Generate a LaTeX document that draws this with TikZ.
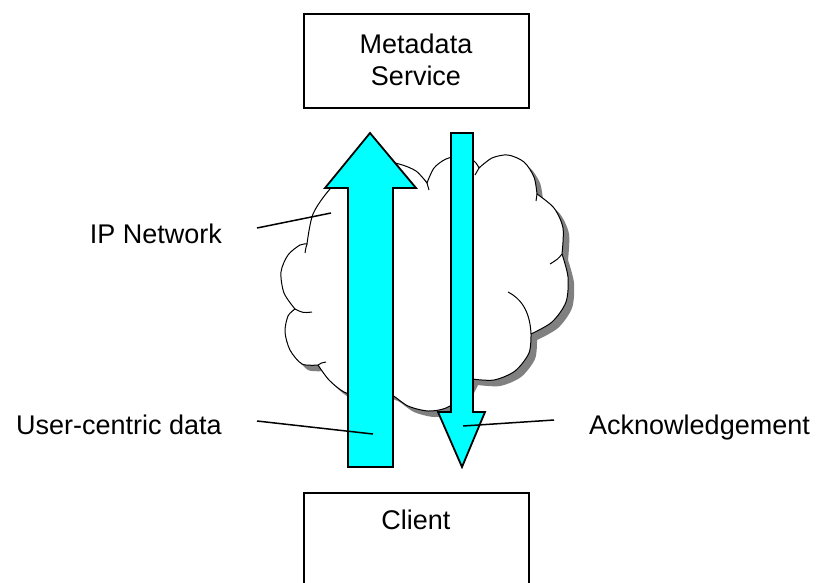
\documentclass[tikz,border=0pt]{standalone}
\usepackage{fontspec}
\setmainfont{Liberation Sans}
\definecolor{aqua}{RGB}{0,255,255}
\definecolor{shadowgray}{RGB}{128,128,128}
\newcommand\cloudoutline{%
  plot[smooth] coordinates {(307,244) (313,214) (330,189) (352,170) (376,161) (399,164) (416,171) (427,183)}
  -- plot[smooth] coordinates {(427,183) (434,168) (446,159) (461,156) (474,161) (479,168)}
  -- plot[smooth] coordinates {(479,168) (492,158) (508,155) (524,162) (534,177) (537,194)}
  -- plot[smooth] coordinates {(537,194) (554,208) (563,228) (562,254)}
  -- plot[smooth] coordinates {(562,254) (568,277) (566,302) (552,322) (531,334)}
  -- plot[smooth] coordinates {(531,334) (529,353) (515,371) (494,380) (472,379)}
  -- plot[smooth] coordinates {(472,379) (462,397) (446,408) (428,411) (408,406) (392,395) (380,392)}
  -- plot[smooth] coordinates {(380,392) (362,397) (344,392) (329,380) (318,365)}
  -- plot[smooth] coordinates {(318,365) (302,364) (290,350) (285,332) (288,316) (295,309)}
  -- plot[smooth] coordinates {(295,309) (284,293) (281,272) (288,255) (300,245) (307,244)}
  -- cycle}
\begin{document}
\begin{tikzpicture}[x=1pt,y=-1pt,
  box/.style={draw=black,line width=1.5pt,fill=white,inner sep=0pt},
  lbl/.style={font=\fontsize{27}{32}\selectfont,inner sep=0pt,text=black},
  leader/.style={draw=black,line width=1.5pt},
  arrowshape/.style={draw=black,line width=1.8pt,fill=aqua,line join=miter},
  cloudbody/.style={fill=white,draw=black,line width=1pt},
  cloudshadow/.style={fill=shadowgray},
  hook/.style={draw=black,line width=1pt}]
\clip (0,0) rectangle (819,582);
\fill[white] (0,0) rectangle (819,582);

% boxes
\node[box,minimum width=225pt,minimum height=94pt,anchor=north west] (meta) at (303,13) {};
\node[box,minimum width=225pt,minimum height=110pt,anchor=north west] (client) at (303,492) {};
\node[lbl,anchor=base,align=center] (metatext) at (416,85) {Metadata\\Service};
\node[lbl,anchor=base] (clienttext) at (416,529) {Client};

% cloud with shadow
\path[cloudshadow,shift={(6,6)}] \cloudoutline;
\path[cloudbody] \cloudoutline;
% inner hooks of the cloud
\draw[hook] (307,244) .. controls (306,247) .. (305,253);
\draw[hook] (295,309) .. controls (303,313) .. (312,312);
\draw[hook] (318,365) .. controls (321,363) .. (326,362);
\draw[hook] (531,334) .. controls (530,310) and (520,298) .. (508,292);
\draw[hook] (562,254) .. controls (558,259) .. (550,264);
\draw[hook] (537,194) .. controls (537,197) .. (536,201);
\draw[hook] (479,168) .. controls (477,171) .. (475,175);
\draw[hook] (427,183) .. controls (428,186) .. (429,190);

% arrows
\coordinate (uptip) at (370,133);
\coordinate (downtip) at (462,467);
\draw[arrowshape] (348,467) -- (348,188) -- (325,188) -- (uptip) -- (416,188) -- (393,188) -- (393,467) -- cycle;
\draw[arrowshape] (451,133) -- (473,133) -- (473,412) -- (485,412) -- (downtip) -- (438,412) -- (451,412) -- cycle;

% labels
\node[lbl,anchor=base east] (ipnet) at (222,243) {IP Network};
\node[lbl,anchor=base east] (ucd) at (222,434) {User-centric data};
\node[lbl,anchor=base west] (ack) at (589,434) {Acknowledgement};

\coordinate (ipA) at (257,228);
\coordinate (ipB) at (331,213);
\coordinate (ucA) at (257,421);
\coordinate (ucB) at (373,434);
\coordinate (akA) at (554,420);
\coordinate (akB) at (463,426);
\draw[leader] (ipA) -- (ipB);
\draw[leader] (ucA) -- (ucB);
\draw[leader] (akA) -- (akB);
\end{tikzpicture}
\end{document}
